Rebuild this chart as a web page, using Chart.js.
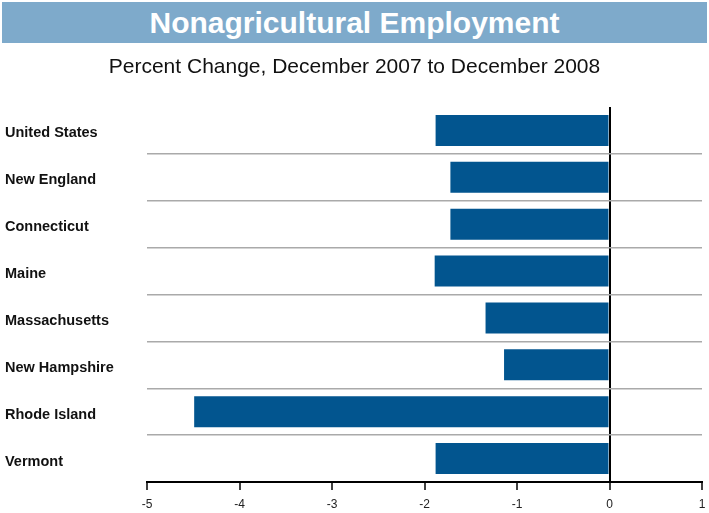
<!DOCTYPE html>
<html>
<head>
<meta charset="utf-8">
<script src="https://cdn.jsdelivr.net/npm/chart.js@4"></script>
<style>
  body { margin: 0; background: #fff; }
  #wrap { position: relative; width: 709px; height: 513px; }
  #banner {
    position: absolute; left: 2px; top: 2px; width: 705px; height: 41px;
    background: #7eaacb; color: #fff; text-align: center;
    font: bold 30px "Liberation Sans", Arial, sans-serif; line-height: 41px;
  }
  #sub {
    position: absolute; left: 0; top: 53px; width: 709px; text-align: center;
    font: 21px "Liberation Sans", Arial, sans-serif; color: #111; line-height: 26px;
  }
  canvas { position: absolute; left: 0; top: 0; }
</style>
</head>
<body>
<div id="wrap">
  <canvas id="bars" width="709" height="513"></canvas>
  <div id="banner">Nonagricultural Employment</div>
  <div id="sub">Percent Change, December 2007 to December 2008</div>
</div>
<script>
const regions = ['United States', 'New England', 'Connecticut', 'Maine',
                 'Massachusetts', 'New Hampshire', 'Rhode Island', 'Vermont'];
const pctChange = [-1.88, -1.72, -1.72, -1.89, -1.34, -1.14, -4.49, -1.88];
const xTicks = [-5, -4, -3, -2, -1, 0, 1];

const ctx = document.getElementById('bars').getContext('2d');
new Chart(ctx, {
  type: 'bar',
  data: {
    labels: regions,
    datasets: [{
      data: pctChange,
      backgroundColor: '#02558f',
      borderWidth: 0,
      barPercentage: 0.66,
      categoryPercentage: 1
    }]
  },
  options: {
    indexAxis: 'y',
    responsive: false,
    animation: false,
    layout: { padding: { left: 5, right: 7, top: 107, bottom: 0 } },
    plugins: { legend: { display: false }, tooltip: { enabled: false } },
    scales: {
      x: {
        min: -5, max: 1,
        z: 1,
        afterBuildTicks: scale => { scale.ticks = xTicks.map(v => ({ value: v })); },
        afterFit: scale => {
          scale.height = 31;
          scale.paddingLeft = 0;
          scale.paddingRight = 0;
        },
        border: { display: true, color: '#000', width: 2 },
        grid: {
          color: c => (c.tick && c.tick.value === 0) ? '#000' : 'rgba(0,0,0,0)',
          lineWidth: 2,
          tickColor: '#000',
          tickLength: 8,
          tickWidth: 1.5
        },
        ticks: {
          padding: 7,
          color: '#222',
          font: { family: 'Liberation Sans', size: 12 }
        }
      },
      y: {
        afterFit: scale => { scale.width = 142; },
        border: { display: false },
        grid: {
          offset: true,
          drawTicks: false,
          lineWidth: 1.5,
          color: c => (c.index === 0 || c.index === undefined) ? 'rgba(0,0,0,0)' : '#aaaaaa'
        },
        ticks: {
          crossAlign: 'far',
          labelOffset: 3,
          color: '#111',
          font: { family: 'Liberation Sans', size: 14.5, weight: 'bold' }
        }
      }
    }
  }
});
</script>
</body>
</html>
